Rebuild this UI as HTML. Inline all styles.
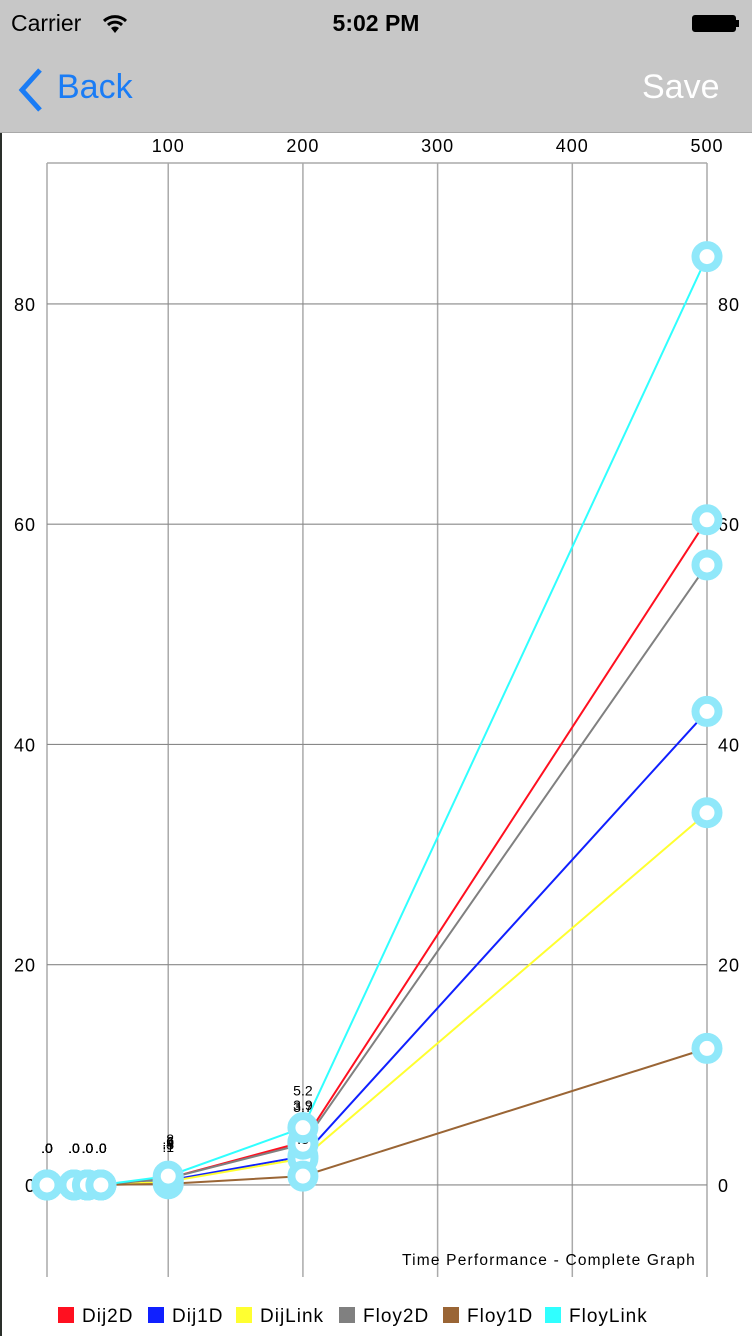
<!DOCTYPE html>
<html><head><meta charset="utf-8">
<style>
html,body{margin:0;padding:0;width:752px;height:1336px;overflow:hidden;background:#fff;font-family:"Liberation Sans",sans-serif;}
#nav{position:absolute;left:0;top:0;width:752px;height:132px;background:#c7c7c7;border-bottom:1px solid #a9a9a9;}
#edge{position:absolute;left:0;top:133px;width:2px;height:1203px;background:#2a2f2a;}
svg{position:absolute;left:0;top:0}
</style></head><body>
<div id="nav">
 <div style="position:absolute;left:11px;top:10px;font-size:23px;color:#000">Carrier</div>
 <svg width="26" height="22" style="left:102px;top:13px" viewBox="0 0 26 22">
  <path d="M2 8 A16 16 0 0 1 24 8" stroke="#000" stroke-width="3" fill="none"/>
  <path d="M6 12 A10 10 0 0 1 20 12" stroke="#000" stroke-width="3" fill="none"/>
  <path d="M13 20 L9 15 A6 6 0 0 1 17 15 Z" fill="#000"/></svg>
 <div style="position:absolute;left:0;width:752px;text-align:center;top:10px;font-size:23px;font-weight:bold">5:02 PM</div>
 <div style="position:absolute;left:692px;top:15px;width:42px;height:15px;background:#000;border:1px solid #000;border-radius:3px"></div>
 <div style="position:absolute;left:736px;top:20px;width:3px;height:7px;background:#000"></div>
 <div style="position:absolute;left:16px;top:66px;color:#1a7cf5;font-size:34px;">
  <svg width="28" height="44" style="position:absolute;left:0;top:2px"><path d="M24 2 L6 22 L24 42" stroke="#1a7cf5" stroke-width="5" fill="none"/></svg>
  <span style="position:absolute;left:41px;top:2px">Back</span></div>
 <div style="position:absolute;left:642px;top:68px;color:#fff;font-size:34px;">Save</div>
</div>
<div id="edge"></div>
<svg id="chart" width="752" height="1336" style="top:0;left:0"></svg>
<script>
const seriesNames=["Dij2D","Dij1D","DijLink","Floy2D","Floy1D","FloyLink"];
const seriesColors=["#ff1020","#1020ff","#ffff30","#808080","#9a6535","#30ffff"];
const xValues=[10,30,40,50,100,200,500];
const dij2D=[0,0,0,0,0.6,3.9,60.4];
const dij1D=[0,0,0,0,0.4,2.6,43.0];
const dijLink=[0,0,0,0,0.3,2.4,33.8];
const floy2D=[0,0,0,0,0.6,3.7,56.3];
const floy1D=[0,0,0,0,0.1,0.8,12.4];
const floyLink=[0,0,0,0,0.8,5.2,84.3];
const xTicks=[100,200,300,400,500];
const yTicks=[0,20,40,60,80];
const NS="http://www.w3.org/2000/svg";
const svg=document.getElementById('chart');
const X0=47,X1=707,Y0=163,Y1=1277,xMin=10,xMax=500,yMin=-8.36,yMax=92.8;
const sx=v=>X0+(v-xMin)/(xMax-xMin)*(X1-X0);
const sy=v=>Y1-(v-yMin)/(yMax-yMin)*(Y1-Y0);
function mk(t,a,txt){const e=document.createElementNS(NS,t);for(const k in a)e.setAttribute(k,a[k]);if(txt!==undefined)e.textContent=txt;svg.appendChild(e);return e;}
let e=mk('line',{x1:X0,y1:Y0,x2:X1,y2:Y0,stroke:'#aaa','stroke-width':1.5});

e=mk('line',{x1:X0,y1:Y0,x2:X0,y2:Y1,stroke:'#aaa','stroke-width':1.5});

xTicks.forEach(t=>{
 let g=mk('line',{x1:sx(t),y1:Y0,x2:sx(t),y2:Y1,stroke:'#aaa','stroke-width':1.5});
 
 let l=mk('text',{x:sx(t),y:152,'text-anchor':'middle','font-size':18,'letter-spacing':1,fill:'#000'},String(t));
 
});
yTicks.forEach(t=>{
 let g=mk('line',{x1:X0,y1:sy(t),x2:X1,y2:sy(t),stroke:'#888','stroke-width':1.2});
 
 let l=mk('text',{x:36,y:sy(t)+7,'text-anchor':'end','font-size':18,'letter-spacing':1,fill:'#000'},String(t));
 
 let r=mk('text',{x:718,y:sy(t)+7,'text-anchor':'start','font-size':18,'letter-spacing':1,fill:'#000'},String(t));
 
});
const allSeries=[dij2D,dij1D,dijLink,floy2D,floy1D,floyLink];
allSeries.forEach((s,i)=>{
 const p=mk('polyline',{points:s.map((v,j)=>sx(xValues[j])+','+sy(v)).join(' '),fill:'none',stroke:seriesColors[i],'stroke-width':2});
 
 
});
allSeries.forEach((s,i)=>{
 s.forEach((v,j)=>{
  const c=mk('circle',{cx:sx(xValues[j]),cy:sy(v),r:11.5,fill:'#fff',stroke:'#90e8fa','stroke-width':8});
  
  
  if(j<xValues.length-1){
   let txt=v.toFixed(1);if(txt.startsWith('0'))txt=txt.slice(1);
   const t=mk('text',{x:sx(xValues[j]),y:sy(v)-32,'text-anchor':'middle','font-size':14,fill:'#000'},txt);
   
   
  }
 });
});
e=mk('text',{x:696,y:1265,'text-anchor':'end','font-size':15.5,'letter-spacing':1.2,fill:'#000'},'Time Performance - Complete Graph');

const legendX=[58,148,236,339,443,545];
seriesNames.forEach((n,i)=>{
 const r=mk('rect',{x:legendX[i],y:1307,width:16,height:16,fill:seriesColors[i]});
 
 const t=mk('text',{x:legendX[i]+24,y:1322,'font-size':19,'letter-spacing':1,fill:'#000'},n);
 
});
</script>
</body></html>
